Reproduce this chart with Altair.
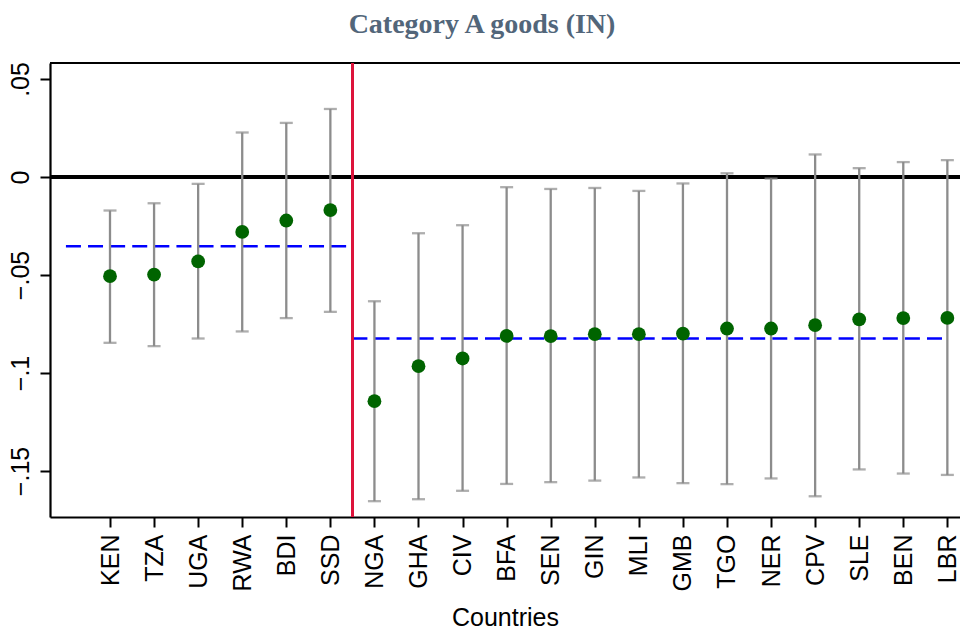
import altair as alt
import pandas as pd

# Country codes in plotting order (East African block first, then West African block)
countries = ["KEN", "TZA", "UGA", "RWA", "BDI", "SSD",
             "NGA", "GHA", "CIV", "BFA", "SEN", "GIN", "MLI", "GMB",
             "TGO", "NER", "CPV", "SLE", "BEN", "LBR"]
estimate = [-0.0506, -0.0498, -0.0431, -0.0280, -0.0222, -0.0169,
            -0.1144, -0.0965, -0.0926, -0.0811, -0.0812, -0.0802, -0.0802, -0.0799,
            -0.0773, -0.0773, -0.0756, -0.0726, -0.0720, -0.0719]
ci_low = [-0.0846, -0.0863, -0.0824, -0.0788, -0.0720, -0.0688,
          -0.1654, -0.1644, -0.1601, -0.1566, -0.1557, -0.1549, -0.1533, -0.1562,
          -0.1567, -0.1538, -0.1629, -0.1492, -0.1513, -0.1520]
ci_high = [-0.0171, -0.0134, -0.0035, 0.0227, 0.0276, 0.0347,
           -0.0634, -0.0287, -0.0246, -0.0052, -0.0061, -0.0056, -0.0071, -0.0033,
           0.0019, -0.0008, 0.0115, 0.0045, 0.0076, 0.0086]

# Block sizes and block averages
block_sizes = [6, 14]
block_means = [-0.0353, -0.0824]

df = pd.DataFrame({
    "pos": list(range(len(countries))),
    "country": countries,
    "estimate": estimate,
    "lo": ci_low,
    "hi": ci_high,
})

split = block_sizes[0] - 0.5
means_df = pd.DataFrame({
    "block": ["east", "west"],
    "x0": [-1.0, split],
    "x1": [split, float(len(countries) - 1)],
    "mean": block_means,
})

y_min, y_max = -0.17347, 0.05816
x_min, x_max = -1.3615, 19.287

xs = alt.Scale(domain=[x_min, x_max], nice=False, zero=False)
ys = alt.Scale(domain=[y_min, y_max], nice=False, zero=False)

label_list = "[" + ",".join(f"'{c}'" for c in countries) + "]"
FS = 25

x_axis = alt.Axis(
    values=list(range(len(countries))),
    labelExpr=f"{label_list}[datum.value]",
    labelAngle=270, labelAlign="right", labelBaseline="middle",
    labelPadding=7, tickSize=10, tickWidth=2, tickColor="black",
    domainColor="black", domainWidth=2.2, grid=False,
    labelFont="Liberation Sans", labelFontSize=FS, labelColor="black",
    title="Countries", titleFont="Liberation Sans", titleFontSize=FS,
    titleFontWeight="normal", titleColor="black",
    titleBaseline="alphabetic", titleY=108,
)
y_axis = alt.Axis(
    values=[-0.15, -0.1, -0.05, 0, 0.05],
    labelExpr="datum.value == 0 ? '0' : replace(format(datum.value, '~g'), '0.', '.')",
    labelAngle=270, labelAlign="center", labelBaseline="alphabetic",
    labelPadding=12, tickSize=10, tickWidth=2, tickColor="black",
    domainColor="black", domainWidth=2.2, grid=False,
    labelFont="Liberation Sans", labelFontSize=FS, labelColor="black",
    title=None,
)

base = alt.Chart(df)

# Frame: top border and zero reference
top_line = alt.Chart(df).mark_rule(color="black", strokeWidth=1.8).encode(
    y=alt.datum(y_max, scale=ys))
zero_line = alt.Chart(df).mark_rule(color="black", strokeWidth=2.5).encode(
    y=alt.datum(0, scale=ys))

# Vertical separator between the two blocks
divider = alt.Chart(df).mark_rule(color="#dc143c", strokeWidth=2.2).encode(
    x=alt.datum(split, scale=xs))

# Dashed block averages
mean_lines = alt.Chart(means_df).mark_rule(
    color="#0000ff", strokeWidth=2.5, strokeDash=[15, 7.1]).encode(
    x=alt.X("x0:Q", scale=xs, axis=x_axis),
    x2="x1:Q",
    y=alt.Y("mean:Q", scale=ys, axis=y_axis),
)

# Confidence intervals with caps
GREY = "#8c8c8c"
bars = base.mark_rule(color=GREY, strokeWidth=2.3).encode(
    x=alt.X("pos:Q", scale=xs, axis=x_axis),
    y=alt.Y("lo:Q", scale=ys, axis=y_axis),
    y2="hi:Q",
)
cap_lo = base.mark_tick(color=GREY, orient="horizontal", size=13, thickness=2.3).encode(
    x=alt.X("pos:Q", scale=xs), y=alt.Y("lo:Q", scale=ys))
cap_hi = base.mark_tick(color=GREY, orient="horizontal", size=13, thickness=2.3).encode(
    x=alt.X("pos:Q", scale=xs), y=alt.Y("hi:Q", scale=ys))

# Point estimates
points = base.mark_point(filled=True, color="#006400", opacity=1, size=190).encode(
    x=alt.X("pos:Q", scale=xs),
    y=alt.Y("estimate:Q", scale=ys),
)

chart = alt.layer(
    zero_line, top_line, mean_lines, bars, cap_lo, cap_hi, divider, points
).properties(
    width=910,
    height=454,
    padding={"left": 50, "top": 63, "right": 0, "bottom": 112},
    autosize=alt.AutoSizeParams(type="none"),
    title=alt.TitleParams(
        "Category A goods (IN)",
        font="Liberation Serif", fontSize=28, fontWeight="bold",
        color="#52667a", anchor="middle", dx=-23,
        baseline="alphabetic", offset=1,
    ),
).configure_view(stroke=None).configure(background="white")

chart.save("out.html", embed_options={"renderer": "svg", "actions": False})
